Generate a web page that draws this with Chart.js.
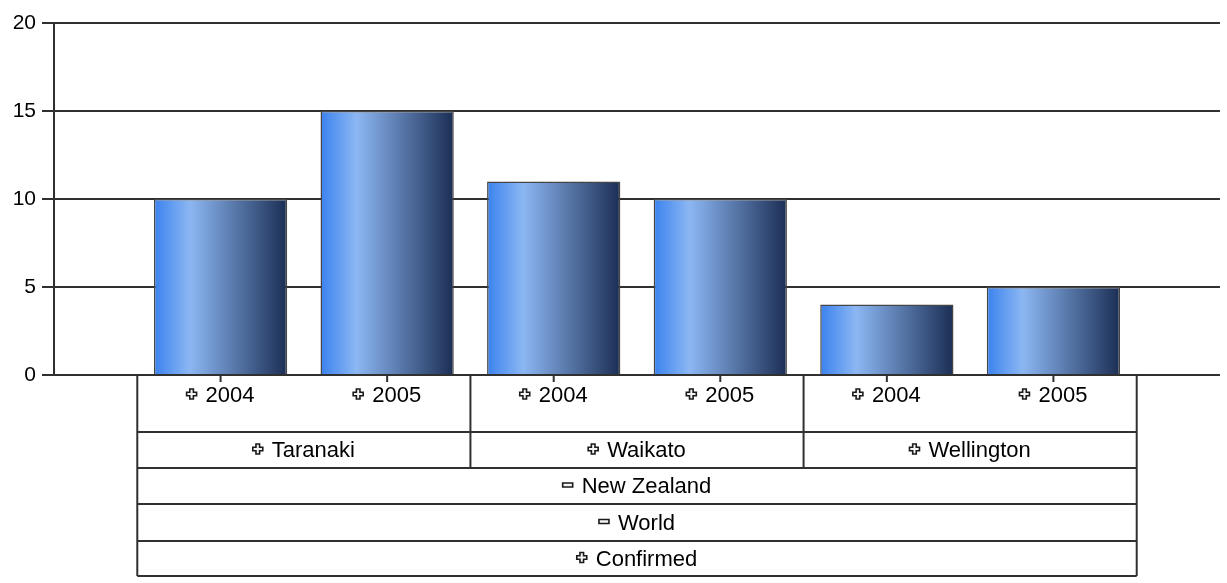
<!DOCTYPE html>
<html>
<head>
<meta charset="utf-8">
<script src="https://cdn.jsdelivr.net/npm/chart.js@4/dist/chart.umd.min.js"></script>
<style>
  body { margin: 0; background: #fff; }
</style>
</head>
<body>
<canvas id="chart" width="1227" height="583"></canvas>
<script>
// data
const years = ['2004', '2005', '2004', '2005', '2004', '2005'];
const regions = ['Taranaki', 'Waikato', 'Wellington'];
const countries = ['New Zealand'];
const worlds = ['World'];
const measures = ['Confirmed'];
const values = [10, 15, 11, 10, 4, 5];
const yTicks = [0, 5, 10, 15, 20];

const FONT = "'Liberation Sans', Arial, sans-serif";
const LINE = '#303030';

// empty slot on each side so the bars sit inside the axis like the original
const labels = [''].concat(years, ['']);
const barData = [null].concat(values, [null]);

function barGradient(ctx) {
  const chart = ctx.chart;
  if (!chart.chartArea || ctx.dataIndex == null) return '#5a8fe0';
  const xs = chart.scales.x;
  const cx = xs.getPixelForValue(ctx.dataIndex);
  const half = (xs.getPixelForValue(1) - xs.getPixelForValue(0)) * 0.4;
  const g = chart.ctx.createLinearGradient(cx - half, 0, cx + half, 0);
  g.addColorStop(0, '#3a82ee');
  g.addColorStop(0.27, '#8cb7f3');
  g.addColorStop(1, '#1b2e54');
  return g;
}

// icon drawn before the labels (plus = collapsed, minus = expanded)
function drawIcon(c, type, x, y) {
  c.save();
  c.fillStyle = '#f4f4f4';
  c.strokeStyle = '#1a1a1a';
  c.lineWidth = 1.6;
  c.beginPath();
  if (type === '+') {
    const a = 5, b = 1.8;
    c.moveTo(x - b, y - a); c.lineTo(x + b, y - a); c.lineTo(x + b, y - b);
    c.lineTo(x + a, y - b); c.lineTo(x + a, y + b); c.lineTo(x + b, y + b);
    c.lineTo(x + b, y + a); c.lineTo(x - b, y + a); c.lineTo(x - b, y + b);
    c.lineTo(x - a, y + b); c.lineTo(x - a, y - b); c.lineTo(x - b, y - b);
    c.closePath();
  } else {
    c.rect(x - 5, y - 2, 10, 4);
  }
  c.fill();
  c.stroke();
  c.restore();
}

function drawLabel(c, text, icon, cx, cy) {
  c.font = '22px ' + FONT;
  const w = c.measureText(text).width;
  const total = w + 19;
  const left = cx - total / 2;
  drawIcon(c, icon, left + 5, cy - 1);
  c.fillStyle = '#000';
  c.textAlign = 'left';
  c.textBaseline = 'middle';
  c.fillText(text, left + 19, cy + 1);
}

const tablePlugin = {
  id: 'tablePlugin',
  afterDraw(chart) {
    const c = chart.ctx;
    const xs = chart.scales.x;
    const step = xs.getPixelForValue(2) - xs.getPixelForValue(1);
    const left = xs.getPixelForValue(1) - step / 2;
    const right = xs.getPixelForValue(years.length) + step / 2;
    const top = chart.chartArea.bottom;
    const rowH = [57, 36, 36, 37, 35];
    const rows = [top];
    rowH.forEach(h => rows.push(rows[rows.length - 1] + h));

    c.save();
    c.strokeStyle = LINE;
    c.lineWidth = 2;
    c.beginPath();
    // outer sides
    c.moveTo(left, top); c.lineTo(left, rows[5]);
    c.moveTo(right, top); c.lineTo(right, rows[5]);
    // row separators
    for (let r = 1; r <= 5; r++) {
      c.moveTo(left, rows[r]); c.lineTo(right, rows[r]);
    }
    // region dividers
    const perRegion = years.length / regions.length;
    for (let i = 1; i < regions.length; i++) {
      const x = left + step * perRegion * i;
      c.moveTo(x, top); c.lineTo(x, rows[2]);
    }
    // small ticks under bars
    years.forEach((y, i) => {
      const x = xs.getPixelForValue(i + 1);
      c.moveTo(x, top); c.lineTo(x, top + 7);
    });
    c.stroke();
    c.restore();

    years.forEach((y, i) => {
      drawLabel(c, y, '+', xs.getPixelForValue(i + 1), top + 20);
    });
    regions.forEach((r, i) => {
      const cx = left + step * perRegion * (i + 0.5);
      drawLabel(c, r, '+', cx, (rows[1] + rows[2]) / 2);
    });
    const mid = (left + right) / 2;
    drawLabel(c, countries[0], '-', mid, (rows[2] + rows[3]) / 2);
    drawLabel(c, worlds[0], '-', mid, (rows[3] + rows[4]) / 2);
    drawLabel(c, measures[0], '+', mid, (rows[4] + rows[5]) / 2);
  }
};

new Chart(document.getElementById('chart'), {
  type: 'bar',
  data: {
    labels: labels,
    datasets: [{
      data: barData,
      backgroundColor: barGradient,
      borderColor: '#454545',
      borderWidth: 1.5,
      categoryPercentage: 1,
      barPercentage: 0.8
    }]
  },
  options: {
    responsive: false,
    animation: false,
    layout: { padding: { top: 23, right: 7, bottom: 208, left: 0 } },
    plugins: { legend: { display: false }, tooltip: { enabled: false } },
    scales: {
      x: { display: false, offset: false },
      y: {
        min: 0,
        max: 20,
        afterFit: s => { s.width = 54; },
        afterBuildTicks: s => { s.ticks = yTicks.map(v => ({ value: v })); },
        ticks: { color: '#000', font: { family: FONT, size: 21 }, padding: 6 },
        grid: { color: LINE, lineWidth: 2, tickLength: 12 },
        border: { color: LINE, width: 2 }
      }
    }
  },
  plugins: [tablePlugin]
});
</script>
</body>
</html>
